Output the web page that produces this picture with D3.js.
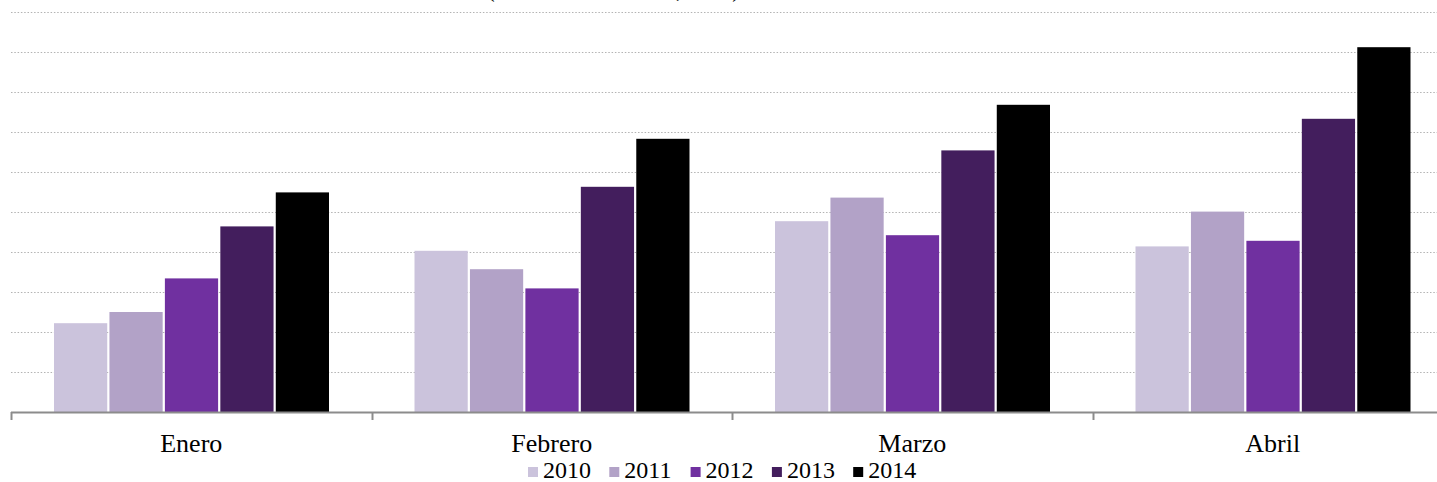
<!DOCTYPE html>
<html>
<head>
<meta charset="utf-8">
<script src="https://d3js.org/d3.v7.min.js"></script>
<style>
    body { margin: 0; background: white; }
    svg { display: block; font-family: "Liberation Serif", "Times New Roman", serif; }
</style>
</head>
<body>
<svg></svg>
<script>
// Chart data (in grid units x100)
const months = ["Enero", "Febrero", "Marzo", "Abril"]
const years = ["2010", "2011", "2012", "2013", "2014"]
const values_2010 = [222, 403, 477, 414]
const values_2011 = [250, 357, 536, 501]
const values_2012 = [334, 309, 442, 428]
const values_2013 = [464, 563, 654, 733]
const values_2014 = [549, 683, 768, 912]
const grid_ticks = [100, 200, 300, 400, 500, 600, 700, 800, 900, 1000]
const colors = ["#cbc3dc", "#b2a2c7", "#7030a0", "#431e5d", "#000000"]

const width = 1437
const height = 482

const series = [values_2010, values_2011, values_2012, values_2013, values_2014]

const svg = d3.select("svg")
    .attr("width", width)
    .attr("height", height)

// Scales
const x0 = d3.scaleBand()
    .domain(months)
    .range([11, 1453])

const x1 = d3.scaleBand()
    .domain(years)
    .range([43, 318])
    .paddingInner(0.04)

const y = d3.scaleLinear()
    .domain([0, 1000])
    .range([412, 12])

const color = d3.scaleOrdinal()
    .domain(years)
    .range(colors)

// Title (mostly cut off at the top)
svg.append("text")
    .attr("x", 487)
    .attr("y", -3)
    .attr("font-size", "23px")
    .attr("fill", "#000")
    .text("(Millones de dólares, FOB)")

// Dotted gridlines
svg.append("g")
    .selectAll("line")
    .data(grid_ticks)
    .enter()
    .append("line")
    .attr("x1", 11)
    .attr("x2", width)
    .attr("y1", d => Math.round(y(d)) + 0.5)
    .attr("y2", d => Math.round(y(d)) + 0.5)
    .style("stroke", "#b3b3b3")
    .style("stroke-width", 1)
    .style("stroke-dasharray", "1.5,1.8")

// Bars
const rows = months.map((m, i) => ({
    month: m,
    bars: years.map((yr, j) => ({ year: yr, value: series[j][i] }))
}))

svg.append("g")
    .selectAll("g")
    .data(rows)
    .enter()
    .append("g")
    .attr("transform", d => "translate(" + x0(d.month) + ",0)")
    .selectAll("rect")
    .data(d => d.bars)
    .enter()
    .append("rect")
    .attr("x", d => x1(d.year))
    .attr("y", d => y(d.value))
    .attr("width", x1.bandwidth())
    .attr("height", d => y(0) - y(d.value))
    .attr("fill", d => color(d.year))

// X axis
const x_axis = d3.axisBottom(x0)
    .tickSize(0)
    .tickPadding(22)

const axis_g = svg.append("g")
    .attr("transform", "translate(0," + y(0) + ")")
    .call(x_axis)

axis_g.select(".domain")
    .attr("d", "M11,0.5H" + width)
    .style("stroke", "#8c8c8c")
    .style("stroke-width", 2)

axis_g.selectAll(".tick text")
    .attr("font-family", "Liberation Serif, Times New Roman, serif")
    .attr("font-size", "26px")
    .attr("fill", "#000")
    .attr("dy", "0.71em")

// Boundary ticks between categories
axis_g.append("g")
    .selectAll("line")
    .data(months)
    .enter()
    .append("line")
    .attr("x1", d => Math.round(x0(d)) + 0.5)
    .attr("x2", d => Math.round(x0(d)) + 0.5)
    .attr("y1", 0)
    .attr("y2", 8)
    .style("stroke", "#8c8c8c")
    .style("stroke-width", 2)

// Legend
const legend = svg.append("g")
    .selectAll("g")
    .data(years)
    .enter()
    .append("g")
    .attr("transform", (d, i) => "translate(" + (528 + i * 81.3) + ",467)")

legend.append("rect")
    .attr("width", 10)
    .attr("height", 10)
    .attr("fill", d => color(d))

legend.append("text")
    .attr("x", 15)
    .attr("y", 11)
    .attr("font-size", "24px")
    .attr("fill", "#000")
    .text(d => d)
</script>
</body>
</html>
